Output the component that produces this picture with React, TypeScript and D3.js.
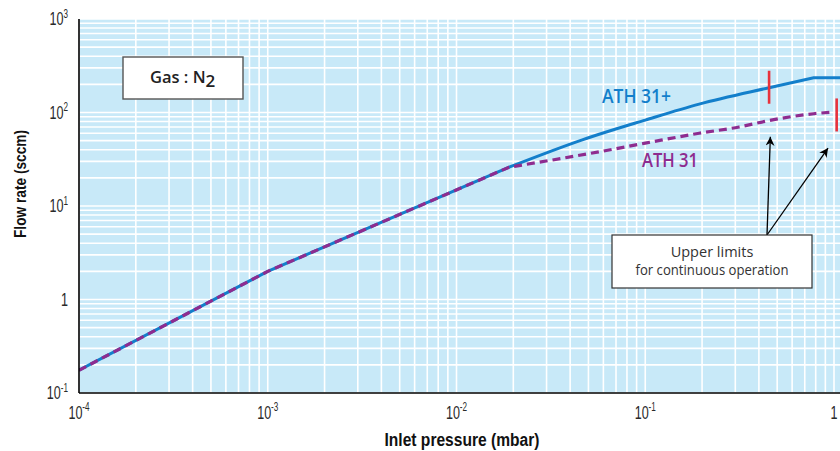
import * as d3 from "d3";

// common part of both curves
const commonP = [1e-4, 1e-3, 0.019];
const commonF = [0.175, 2, 26];
// ATH 31+ after the split
const plusP = [0.0464, 0.1, 0.193, 0.453, 0.78, 1.1];
const plusF = [51, 83, 123, 184, 235, 235];
// ATH 31 after the split
const baseP = [0.057, 0.1, 0.193, 0.314, 0.453, 0.78, 1];
const baseF = [38, 47, 60, 70, 82, 97, 101];

// upper limit markers [pressure, flow]
const limitP = [0.453, 1.033];
const limitF = [184, 93];
// arrow tips
const arrowP = [0.46, 0.93];
const arrowF = [55, 41.7];

const xTicks = [1e-4, 1e-3, 1e-2, 1e-1, 1];
const xTickExp = ["-4", "-3", "-2", "-1", ""];
const yTicks = [0.1, 1, 10, 100, 1000];
const yTickExp = ["-1", "", "1", "2", "3"];

const W = 840;
const H = 451;
const left = 79;
const top = 19;
const bottom = 393;

const x = d3.scaleLog().domain([1e-4, 1]).range([left, 834]);
const y = d3.scaleLog().domain([0.1, 1000]).range([bottom, top]);

const BLUE = "#137fcb";
const PURPLE = "#8e2c8f";
const RED = "#e8323c";
const BG = "#c8e9f8";

const toPts = (p: number[], f: number[]) => p.map((v, i) => [x(v), y(f[i])] as [number, number]);

const straight = d3.line<[number, number]>();
const smooth = d3.line<[number, number]>().curve(d3.curveMonotoneX);

// straight common part, smooth bend after the split, straight tail for ATH 31+
function buildPath(p: number[], f: number[], tail: number) {
  const common = toPts(commonP, commonF);
  const rest = toPts(p, f);
  const bend = [common[common.length - 1], ...rest.slice(0, rest.length - tail)];
  let d = straight(common) ?? "";
  d += (smooth(bend) ?? "").replace(/^M/, "L");
  if (tail > 0) {
    const t = rest.slice(rest.length - tail - 1);
    d += (straight(t) ?? "").replace(/^M/, "L");
  }
  return d;
}

function TickLabel({ tx, ty, exp, anchor }: { tx: number; ty: number; exp: string; anchor: string }) {
  return (
    <g transform={`translate(${tx},${ty}) scale(0.68,1)`}>
      <text
        x={0}
        y={0}
        textAnchor={anchor}
        fontFamily="Liberation Sans, Arial, sans-serif"
        fontSize={18.5}
        fill="#2a2a2a"
      >
        {exp === "" ? "1" : "10"}
        {exp !== "" && (
          <tspan fontSize={12} dy={-7.5}>
            {exp}
          </tspan>
        )}
      </text>
    </g>
  );
}

export default function App() {
  const gridX: number[] = [];
  for (let d = -4; d <= 0; d++) {
    for (let k = 1; k <= 9; k++) {
      const v = k * Math.pow(10, d);
      if (x(v) <= W) gridX.push(v);
    }
  }
  const gridY: number[] = [];
  for (let d = -1; d <= 2; d++) {
    for (let k = 1; k <= 9; k++) gridY.push(k * Math.pow(10, d));
  }
  gridY.push(1000);

  const plusPath = buildPath(plusP, plusF, 1);
  const basePath = buildPath(baseP, baseF, 0);

  const boxX = 612;
  const boxY = 235;
  const boxW = 200;
  const boxH = 53;
  const anchorX = 767;

  return (
    <svg width={W} height={H} style={{ position: "absolute", left: 0, top: 0 }}>
      <defs>
        <clipPath id="plot">
          <rect x={left} y={top} width={W - left} height={bottom - top} />
        </clipPath>
        <marker id="arrow" viewBox="0 0 10 10" refX={10} refY={5} markerWidth={9} markerHeight={9} orient="auto" markerUnits="userSpaceOnUse">
          <path d="M0,0 L10,5 L0,10 L3,5 Z" fill="#000" />
        </marker>
      </defs>
      <rect width={W} height={H} fill="#fff" />
      <rect x={left} y={top} width={W - left} height={bottom - top} fill={BG} />

      <g stroke="#fff" strokeWidth={1.6}>
        {gridX.map((v, i) => (
          <line key={"gx" + i} x1={x(v)} x2={x(v)} y1={top} y2={bottom} />
        ))}
        {gridY.map((v, i) => (
          <line key={"gy" + i} x1={left} x2={W} y1={y(v)} y2={y(v)} />
        ))}
      </g>

      <g clipPath="url(#plot)" fill="none">
        <path d={plusPath} stroke={BLUE} strokeWidth={3} />
        <path d={basePath} stroke={PURPLE} strokeWidth={3.2} strokeDasharray="8,5" />
      </g>

      {limitP.map((p, i) => (
        <line key={"lim" + i} x1={x(p)} x2={x(p)} y1={y(limitF[i]) - 17} y2={y(limitF[i]) + 16} stroke={RED} strokeWidth={2.6} />
      ))}

      {arrowP.map((p, i) => (
        <line key={"ar" + i} x1={anchorX} y1={boxY} x2={x(p)} y2={y(arrowF[i])} stroke="#000" strokeWidth={1.3} markerEnd="url(#arrow)" />
      ))}

      <line x1={left} x2={left} y1={top} y2={bottom} stroke="#000" strokeWidth={1.6} />
      <line x1={left} x2={W} y1={bottom} y2={bottom} stroke="#000" strokeWidth={1.6} />

      {xTicks.map((v, i) => (
        <TickLabel key={"xt" + i} tx={x(v)} ty={418.5} exp={xTickExp[i]} anchor="middle" />
      ))}
      {yTicks.map((v, i) => (
        <TickLabel key={"yt" + i} tx={68} ty={y(v) + 6} exp={yTickExp[i]} anchor="end" />
      ))}

      <text x={462} y={446} textAnchor="middle" fontFamily="Liberation Sans, Arial, sans-serif" fontWeight="bold" fontSize={18} textLength={155} lengthAdjust="spacingAndGlyphs" fill="#111">
        Inlet pressure (mbar)
      </text>
      <text transform="translate(25.5,184) rotate(-90)" textAnchor="middle" fontFamily="Liberation Sans, Arial, sans-serif" fontWeight="bold" fontSize={17} textLength={108} lengthAdjust="spacingAndGlyphs" fill="#111">
        Flow rate (sccm)
      </text>

      <rect x={123} y={57} width={120} height={42} fill="#fff" stroke="#555" strokeWidth={1.4} />
      <text x={150} y={83.3} fontFamily="Open Sans, sans-serif" fontSize={16.5} fontWeight={600} fill="#222">
        Gas : N
        <tspan fontSize={17} dy={4}>2</tspan>
      </text>

      <text x={602} y={103} fontFamily="Open Sans, sans-serif" fontWeight={600} fontSize={20} textLength={69} lengthAdjust="spacingAndGlyphs" fill={BLUE}>
        ATH 31+
      </text>
      <text x={642} y={167} fontFamily="Open Sans, sans-serif" fontWeight={600} fontSize={19} textLength={56} lengthAdjust="spacingAndGlyphs" fill={PURPLE}>
        ATH 31
      </text>

      <rect x={boxX} y={boxY} width={boxW} height={boxH} fill="#fff" stroke="#333" strokeWidth={1.2} />
      <text x={boxX + boxW / 2} y={257} textAnchor="middle" fontFamily="Open Sans, sans-serif" fontSize={14.5} fill="#333">
        Upper limits
      </text>
      <text x={boxX + boxW / 2} y={274.5} textAnchor="middle" fontFamily="Open Sans, sans-serif" fontSize={14.5} textLength={153} lengthAdjust="spacingAndGlyphs" fill="#333">
        for continuous operation
      </text>
    </svg>
  );
}
